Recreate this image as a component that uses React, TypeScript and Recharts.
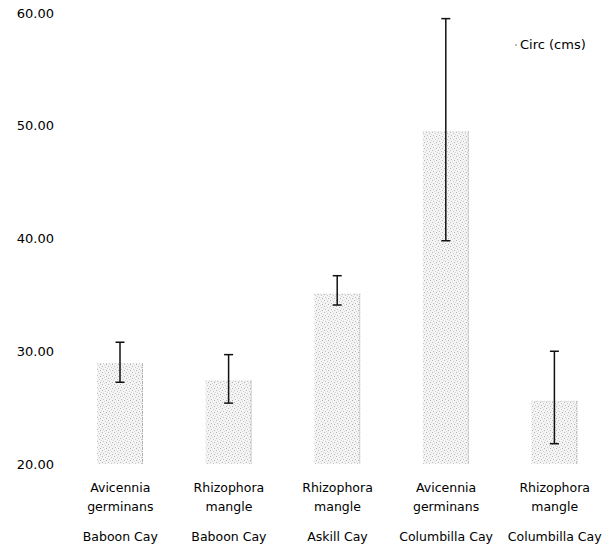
import React from 'react';
import { BarChart, Bar, XAxis, YAxis, ErrorBar, Legend } from 'recharts';

const species = ['Avicennia germinans', 'Rhizophora mangle', 'Rhizophora mangle', 'Avicennia germinans', 'Rhizophora mangle'];
const locations = ['Baboon Cay', 'Baboon Cay', 'Askill Cay', 'Columbilla Cay', 'Columbilla Cay'];
const circMeans = [28.95, 27.4, 35.1, 49.5, 25.6];
const errLow = [1.7, 2.0, 1.0, 9.7, 3.8];
const errHigh = [1.85, 2.3, 1.6, 10.0, 4.4];
const yTicks = [20, 30, 40, 50, 60];

const data = species.map((s, i) => ({
  name: `${s}|${locations[i]}`,
  circ: circMeans[i],
  err: [errLow[i], errHigh[i]],
}));

const FONT = '"DejaVu Sans", Verdana, sans-serif';

const XTick = (props: any) => {
  const { x, y, payload } = props;
  const [sp, loc] = String(payload.value).split('|');
  const words = sp.split(' ');
  return (
    <g>
      <text x={x} y={y} textAnchor="middle" fontFamily={FONT} fontSize={12.5} fill="#000">
        <tspan x={x} dy={20}>{words[0]}</tspan>
        <tspan x={x} dy={19}>{words[1]}</tspan>
        <tspan x={x} dy={30}>{loc}</tspan>
      </text>
    </g>
  );
};

const BarShape = (props: any) => {
  const { x, y, width, height } = props;
  if (height <= 0) return null;
  return (
    <g>
      <rect x={x} y={y} width={width} height={height} fill="url(#stipple)" />
      <line x1={x + width - 0.5} y1={y} x2={x + width - 0.5} y2={y + height} stroke="#aaa" strokeDasharray="1 1" />
      <line x1={x} y1={y + 0.5} x2={x + width} y2={y + 0.5} stroke="#ccc" strokeDasharray="1 2" />
    </g>
  );
};

const LegendContent = () => (
  <div style={{ fontFamily: FONT, fontSize: 13, color: '#000', display: 'flex', alignItems: 'center', whiteSpace: 'nowrap' }}>
    <span style={{ display: 'inline-block', width: 2, height: 2, background: '#bbb', marginRight: 3 }} />
    Circ (cms)
  </div>
);

export default function App() {
  return (
    <div style={{ position: 'absolute', left: 0, top: 0, width: 609, height: 548, background: '#fff' }}>
      <svg width={0} height={0} style={{ position: 'absolute' }}>
        <defs>
          <pattern id="stipple" width="6" height="6" patternUnits="userSpaceOnUse">
            <rect width="6" height="6" fill="#f4f4f4" />
            <rect x="0" y="0" width="1" height="1" fill="#b8b8b8" />
            <rect x="3" y="1" width="1" height="1" fill="#c8c8c8" />
            <rect x="1" y="3" width="1" height="1" fill="#c0c0c0" />
            <rect x="4" y="4" width="1" height="1" fill="#b0b0b0" />
            <rect x="5" y="2" width="1" height="1" fill="#d4d4d4" />
            <rect x="2" y="5" width="1" height="1" fill="#d8d8d8" />
          </pattern>
        </defs>
      </svg>
      <BarChart width={609} height={548} data={data} margin={{ top: 13, right: 0, bottom: 0, left: 0 }} barCategoryGap={0}>
        <XAxis dataKey="name" axisLine={false} tickLine={false} tick={<XTick />} interval={0} height={84} />
        <YAxis
          domain={[20, 60]}
          ticks={yTicks}
          width={66}
          axisLine={false}
          tickLine={false}
          tickMargin={6}
          tick={{ fontFamily: FONT, fontSize: 13, fill: '#000' }}
          tickFormatter={(v: number) => v.toFixed(2)}
        />
        <Legend
          layout="horizontal"
          verticalAlign="middle"
          align="center"
          wrapperStyle={{ top: 37, left: 515, width: 'auto', right: 'auto', bottom: 'auto' }}
          content={<LegendContent />}
        />
        <Bar dataKey="circ" barSize={46} shape={<BarShape />} isAnimationActive={false}>
          <ErrorBar dataKey="err" width={4.5} stroke="#111" strokeWidth={1.5} direction="y" />
        </Bar>
      </BarChart>
    </div>
  );
}
